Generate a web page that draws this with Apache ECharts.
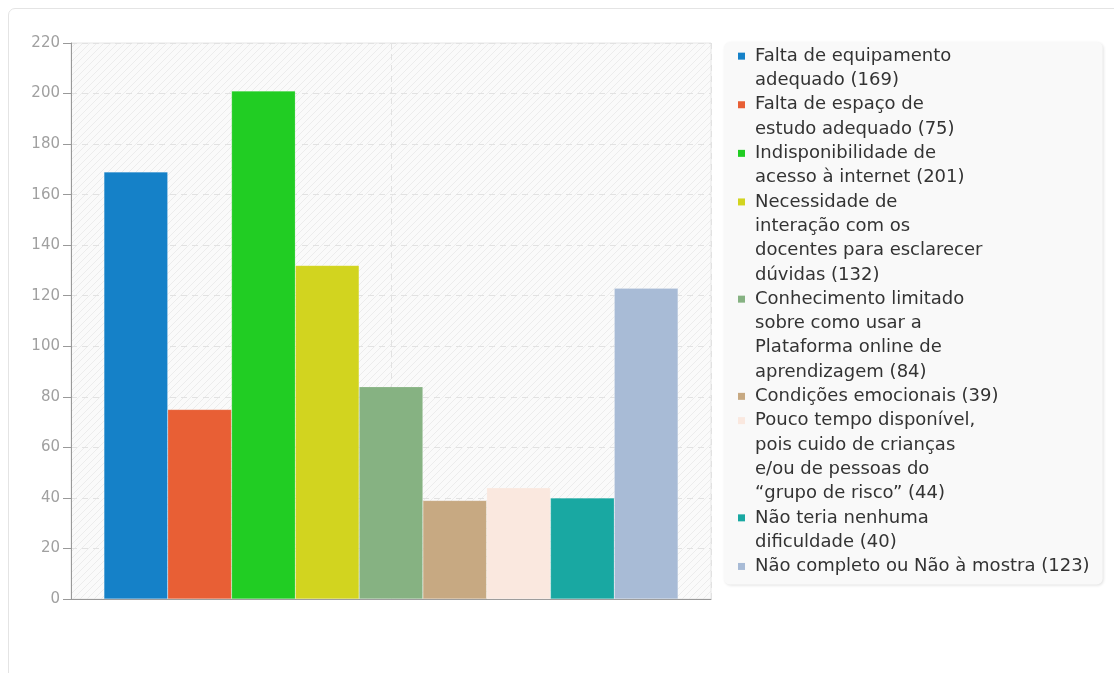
<!DOCTYPE html>
<html>
<head>
<meta charset="utf-8">
<script src="https://cdn.jsdelivr.net/npm/echarts@6/dist/echarts.min.js"></script>
<style>
html,body{margin:0;padding:0;background:#fff;width:1114px;height:673px;overflow:hidden;}
#frame{position:absolute;left:8px;top:8px;width:1120px;height:700px;border:1px solid #e4e4e4;border-radius:7px;box-sizing:border-box;}
#chart{position:absolute;left:0;top:0;width:1114px;height:673px;}
</style>
</head>
<body>
<div id="frame"></div>
<div id="chart"></div>
<script>
// Data
const seriesLabels = [
  "Falta de equipamento\nadequado",
  "Falta de espaço de\nestudo adequado",
  "Indisponibilidade de\nacesso à internet",
  "Necessidade de\ninteração com os\ndocentes para esclarecer\ndúvidas",
  "Conhecimento limitado\nsobre como usar a\nPlataforma online de\naprendizagem",
  "Condições emocionais",
  "Pouco tempo disponível,\npois cuido de crianças\ne/ou de pessoas do\n“grupo de risco”",
  "Não teria nenhuma\ndificuldade",
  "Não completo ou Não à mostra"
];
const seriesValues = [169, 75, 201, 132, 84, 39, 44, 40, 123];
const seriesColors = ["#1581c8", "#e85f35", "#21cd23", "#d2d41f", "#86b282", "#c7a982", "#fae8df", "#19a8a2", "#a8bbd6"];
const categories = [""];
const yTicks = {min: 0, max: 220, interval: 20};

// hatch pattern for plot background
const pc = document.createElement('canvas');
pc.width = 7; pc.height = 7;
const pctx = pc.getContext('2d');
pctx.fillStyle = '#fafafa';
pctx.fillRect(0, 0, 7, 7);
pctx.strokeStyle = '#ececec';
pctx.lineWidth = 1;
pctx.beginPath();
pctx.moveTo(-1, 8); pctx.lineTo(8, -1);
pctx.moveTo(-1, 1); pctx.lineTo(1, -1);
pctx.moveTo(6, 8); pctx.lineTo(8, 6);
pctx.stroke();

const names = seriesLabels.map((l, i) => l + " (" + seriesValues[i] + ")");

const LH = 24.3;
const FS = 18;
const rich = {
  t: {fontFamily: 'DejaVu Sans', fontSize: FS, color: '#333', lineHeight: LH},
  g: {width: 10, lineHeight: LH},
  ind: {width: 17, lineHeight: LH}
};
seriesColors.forEach((c, i) => {
  rich['s' + i] = {width: 7, height: 7, backgroundColor: c, lineHeight: LH};
});

const chart = echarts.init(document.getElementById('chart'), null, {renderer: 'canvas'});
chart.setOption({
  animation: false,
  backgroundColor: 'transparent',
  grid: {
    left: 71, top: 43, width: 640, height: 556,
    show: true,
    backgroundColor: {image: pc, repeat: 'repeat'},
    borderColor: '#e6e6e6', borderWidth: 1
  },
  xAxis: [
    {
      type: 'category', data: categories, gridIndex: 0,
      axisLine: {show: true, onZero: false, lineStyle: {color: '#999', width: 1}},
      axisTick: {show: false}, axisLabel: {show: false},
      splitLine: {show: false}
    },
    {
      type: 'value', min: 0, max: 2, interval: 1, gridIndex: 0, position: 'top',
      axisLine: {show: false}, axisTick: {show: false}, axisLabel: {show: false},
      splitLine: {show: true, lineStyle: {color: '#e2e2e2', type: [6, 5], width: 1}}
    }
  ],
  yAxis: {
    type: 'value', min: yTicks.min, max: yTicks.max, interval: yTicks.interval,
    axisLine: {show: true, lineStyle: {color: '#999', width: 1}},
    axisTick: {show: true, length: 8, inside: false, lineStyle: {color: '#999'}},
    axisLabel: {color: '#a0a0a0', fontFamily: 'DejaVu Sans', fontSize: 15, margin: 11},
    splitLine: {show: true, lineStyle: {color: '#e2e2e2', type: [6, 5], width: 1}}
  },
  legend: {
    orient: 'vertical',
    left: 724, top: 42,
    padding: [2, 13, 6, 13],
    itemGap: 0,
    itemWidth: 0, itemHeight: 0,
    icon: 'rect',
    backgroundColor: '#f9f9f9',
    borderRadius: 6,
    shadowColor: 'rgba(0,0,0,0.12)', shadowBlur: 3, shadowOffsetX: 1, shadowOffsetY: 1,
    selectedMode: false,
    data: names,
    formatter: function (name) {
      const i = names.indexOf(name);
      const lines = name.split('\n');
      return lines.map((ln, k) => (k === 0 ? '{s' + i + '|}{g|}' : '{ind|}') + '{t|' + ln + '}').join('\n');
    },
    textStyle: {rich: rich, fontFamily: 'DejaVu Sans', fontSize: FS, color: '#333', lineHeight: LH, padding: [0, 0, 0, -5]}
  },
  series: names.map((n, i) => ({
    name: n,
    type: 'bar',
    xAxisIndex: 0,
    data: [seriesValues[i]],
    barGap: '0%',
    barCategoryGap: '10.3%',
    itemStyle: {color: seriesColors[i], borderColor: 'rgba(255,255,255,0.35)', borderWidth: 0.5}
  }))
});
</script>
</body>
</html>
